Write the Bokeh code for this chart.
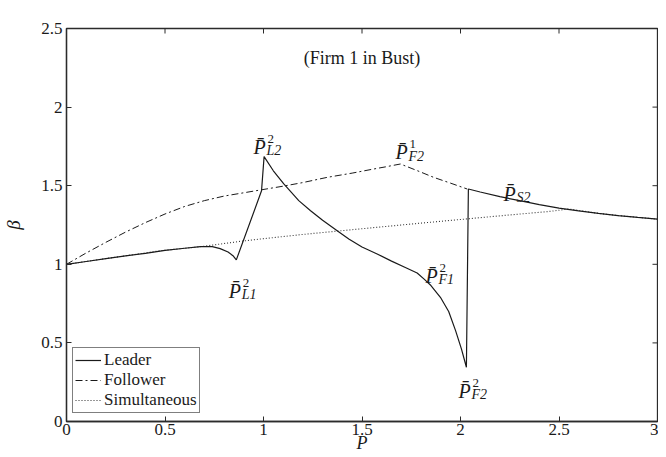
import numpy as np
from bokeh.plotting import figure
from bokeh.models import (Range1d, FixedTicker, Legend, LegendItem,
                          ColumnDataSource)
from bokeh.core.properties import value
from bokeh.embed import file_html
from bokeh.resources import INLINE

# ---------------- data ----------------
leader_p = [0, 0.1, 0.2, 0.3, 0.4, 0.5, 0.6, 0.68, 0.74, 0.78, 0.82, 0.845, 0.862,
            0.99, 1.003, 1.05, 1.103, 1.179, 1.239, 1.3, 1.374, 1.433, 1.5, 1.577,
            1.65, 1.72, 1.78, 1.814, 1.85, 1.898, 1.94, 1.975, 2.005, 2.03, 2.04,
            2.1, 2.2, 2.3, 2.4, 2.5, 2.6, 2.7, 2.8, 2.9, 3.0]
leader_b = [1.0, 1.018, 1.036, 1.054, 1.07, 1.088, 1.102, 1.112, 1.112, 1.10, 1.078,
            1.055, 1.028, 1.468, 1.685, 1.595, 1.511, 1.405, 1.341, 1.28, 1.214,
            1.161, 1.11, 1.066, 1.02, 0.98, 0.945, 0.907, 0.865, 0.79, 0.70, 0.578,
            0.46, 0.345, 1.479, 1.46, 1.43, 1.405, 1.38, 1.357, 1.34, 1.324, 1.31,
            1.298, 1.287]

follower_p = [0, 0.1, 0.2, 0.3, 0.4, 0.5, 0.6, 0.7, 0.8, 0.9, 0.985, 1.1, 1.2, 1.323,
              1.45, 1.55, 1.62, 1.695, 1.78, 1.864, 1.95, 2.034]
follower_b = [1.0, 1.072, 1.14, 1.205, 1.265, 1.32, 1.368, 1.405, 1.434, 1.455, 1.473,
              1.497, 1.52, 1.553, 1.58, 1.604, 1.62, 1.638, 1.596, 1.553, 1.516, 1.479]

simult_p = [0, 0.48, 0.68, 0.883, 0.985, 1.2, 1.54, 1.8, 2.034, 2.25, 2.457, 2.55,
            2.7, 2.8, 3.0]
simult_b = [1.0, 1.087, 1.112, 1.146, 1.161, 1.19, 1.231, 1.262, 1.289, 1.314, 1.337,
            1.352, 1.324, 1.31, 1.287]

x_ticks = [0, 0.5, 1, 1.5, 2, 2.5, 3]
y_ticks = [0, 0.5, 1, 1.5, 2, 2.5]

lab_x = [0.949, 0.824, 1.670, 1.822, 1.990, 2.218]
lab_y = [1.748, 0.833, 1.712, 0.928, 0.197, 1.45]
lab_sup = ["2", "2", "1", "2", "2", ""]
lab_sub = ["L2", "L1", "F2", "F1", "F2", "S2"]

title_text = "(Firm 1 in Bust)"
title_x, title_y = [1.5], [2.31]

# ---------------- figure ----------------
SERIF = "Liberation Serif"
AX = "#2b2b2b"
INK = "#1a1a1a"

p = figure(frame_width=591, frame_height=393, x_range=Range1d(0, 3),
           y_range=Range1d(0, 2.5), output_backend="svg", toolbar_location=None,
           min_border_left=58, min_border_right=1, min_border_top=28,
           min_border_bottom=35, background_fill_color="white",
           border_fill_color="white")
p.grid.visible = False
p.outline_line_color = AX
p.outline_line_width = 1.3

for ax, ticks in ((p.xaxis[0], x_ticks), (p.yaxis[0], y_ticks)):
    ax.ticker = FixedTicker(ticks=ticks)
    ax.major_tick_in = 5
    ax.major_tick_out = 0
    ax.minor_tick_in = 0
    ax.minor_tick_out = 0
    ax.axis_line_color = AX
    ax.axis_line_width = 1.3
    ax.major_tick_line_color = AX
    ax.major_label_text_font = SERIF
    ax.major_label_text_font_size = "17px"
    ax.major_label_text_color = INK
    ax.axis_label_text_font = SERIF
    ax.axis_label_text_font_style = "italic"
    ax.axis_label_text_font_size = "19px"
    ax.axis_label_text_color = INK

p.xaxis[0].axis_label = "P"
p.xaxis[0].axis_label_text_font_size = "18px"
p.xaxis[0].major_label_standoff = 2
p.xaxis[0].axis_label_standoff = -5
p.yaxis[0].axis_label = "β"
p.yaxis[0].major_label_standoff = 4
p.yaxis[0].axis_label_standoff = 14

# box ticks on the top and right edges (clipped to the frame -> inward ticks)
p.scatter(x=x_ticks, y=[2.5] * len(x_ticks), marker="dash", size=10,
          angle=np.pi / 2, line_color=AX, line_width=1)
p.scatter(x=[3] * len(y_ticks), y=y_ticks, marker="dash", size=10,
          line_color=AX, line_width=1)

# ---------------- lines ----------------
r_sim = p.line(simult_p, simult_b, line_color="#333333", line_width=1.1,
               line_dash="1 2")
r_fol = p.line(follower_p, follower_b, line_color=INK, line_width=1.0,
               line_dash="7 3 2 3")
r_lead = p.line(leader_p, leader_b, line_color=INK, line_width=1.2)

legend = Legend(items=[LegendItem(label="Leader", renderers=[r_lead]),
                       LegendItem(label="Follower", renderers=[r_fol]),
                       LegendItem(label="Simultaneous", renderers=[r_sim])],
                location=(6, 8), margin=0, padding=2, spacing=0,
                glyph_width=26, glyph_height=18, label_height=18,
                label_standoff=3, label_text_font=SERIF,
                label_text_font_size="17px", label_text_color=INK,
                border_line_color="black", border_line_width=1.5,
                background_fill_alpha=1.0)
p.add_layout(legend)

# ---------------- annotations ----------------
src_main = ColumnDataSource(dict(x=lab_x, y=lab_y, t=["P\u0304"] * len(lab_x)))
sup_idx = [i for i, s in enumerate(lab_sup) if s]
src_sup = ColumnDataSource(dict(x=[lab_x[i] for i in sup_idx],
                                y=[lab_y[i] for i in sup_idx],
                                t=[lab_sup[i] for i in sup_idx]))
src_sub = ColumnDataSource(dict(x=lab_x, y=lab_y, t=lab_sub))

p.text(x="x", y="y", text="t", source=src_main, text_font=value(SERIF),
       text_font_style="italic", text_font_size="20px", text_color=INK,
       text_align="left", text_baseline="alphabetic")
p.text(x="x", y="y", text="t", source=src_sup, text_font=value(SERIF),
       text_font_size="13px", text_color=INK, text_align="left",
       text_baseline="alphabetic", x_offset=14, y_offset=-8)
p.text(x="x", y="y", text="t", source=src_sub, text_font=value(SERIF),
       text_font_style="italic", text_font_size="14px", text_color=INK,
       text_align="left", text_baseline="alphabetic", x_offset=13, y_offset=4)

p.text(x=title_x, y=title_y, text=[title_text], text_font=value(SERIF),
       text_font_size="18px", text_color=INK, text_align="center",
       text_baseline="middle")

open("out.html", "w").write(file_html(p, INLINE))
